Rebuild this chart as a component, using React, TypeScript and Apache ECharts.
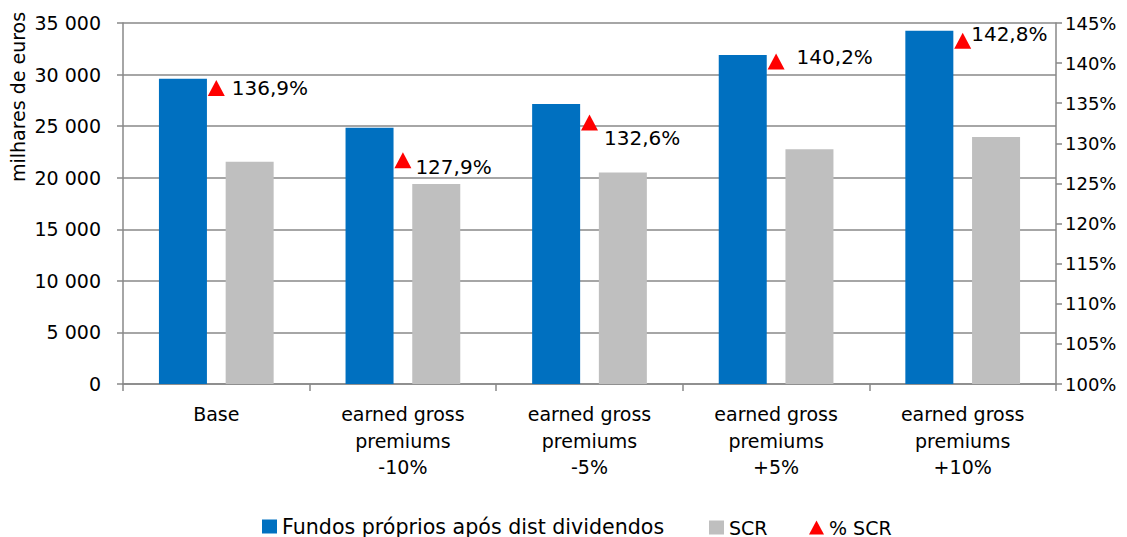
import React, { useEffect, useRef } from "react";
import * as echarts from "echarts";

const categories = [
  "Base",
  "earned gross\npremiums\n-10%",
  "earned gross\npremiums\n-5%",
  "earned gross\npremiums\n+5%",
  "earned gross\npremiums\n+10%",
];
const fundosProprios = [29600, 24850, 27150, 31900, 34250];
const scr = [21550, 19400, 20500, 22750, 23950];
const pctScr = [136.9, 127.9, 132.6, 140.2, 142.8];
const leftTicks = { min: 0, max: 35000, interval: 5000 };
const rightTicks = { min: 100, max: 145, interval: 5 };
const labelOffsets = [
  [2, 0],
  [-1, 7],
  [1, 16],
  [7, -5],
  [-5, -7],
];
const seriesNames = ["Fundos próprios após dist dividendos", "SCR", "% SCR"];
const legendIcons = ["rect", "rect", "triangle"];
const legendLefts = [262, 709, 809];
const legendFontSizes = [20.6, 19, 19];

const FONT = "DejaVu Sans";
const GRID_COLOR = "#888888";
const TEXT_COLOR = "#000000";

function fmtThousands(v: number): string {
  return String(v).replace(/\B(?=(\d{3})+(?!\d))/g, " ");
}

export default function App() {
  const ref = useRef<HTMLDivElement>(null);
  useEffect(() => {
    if (!ref.current) return;
    const chart = echarts.init(ref.current, null, { renderer: "svg" });
    chart.setOption({
      animation: false,
      backgroundColor: "#ffffff",
      textStyle: { fontFamily: FONT },
      grid: { left: 123, right: 71, top: 23, bottom: 153, containLabel: false },
      legend: seriesNames.map((n, i) => ({
        bottom: 0,
        left: legendLefts[i],
        padding: 0,
        itemWidth: 15,
        itemHeight: 14,
        itemGap: 0,
        textStyle: { fontFamily: FONT, fontSize: legendFontSizes[i], color: TEXT_COLOR },
        data: [{ name: n, icon: legendIcons[i] }],
      })),
      graphic: [
        {
          type: "text",
          x: 18,
          y: 97,
          rotation: Math.PI / 2,
          style: {
            text: "milhares de euros",
            fontFamily: FONT,
            fontSize: 19,
            fill: TEXT_COLOR,
            align: "center",
            verticalAlign: "middle",
          },
        },
      ],
      xAxis: {
        type: "category",
        data: categories,
        axisLine: { show: true, lineStyle: { color: GRID_COLOR, width: 1.5 } },
        axisTick: { show: true, length: 7, lineStyle: { color: GRID_COLOR, width: 1.5 } },
        axisLabel: {
          fontFamily: FONT,
          fontSize: 19,
          lineHeight: 26.5,
          color: TEXT_COLOR,
          margin: 17,
          interval: 0,
        },
      },
      yAxis: [
        {
          type: "value",
          min: leftTicks.min,
          max: leftTicks.max,
          interval: leftTicks.interval,
          axisLine: { show: true, lineStyle: { color: GRID_COLOR, width: 1.5 } },
          axisTick: { show: true, length: 6, lineStyle: { color: GRID_COLOR, width: 1.5 } },
          splitLine: { show: true, lineStyle: { color: GRID_COLOR, width: 1.5 } },
          axisLabel: {
            fontFamily: FONT,
            fontSize: 19,
            color: TEXT_COLOR,
            margin: 22,
            formatter: (v: number) => fmtThousands(v),
          },
        },
        {
          type: "value",
          min: rightTicks.min,
          max: rightTicks.max,
          interval: rightTicks.interval,
          position: "right",
          axisLine: { show: true, lineStyle: { color: GRID_COLOR, width: 1.5 } },
          axisTick: { show: true, length: 6, lineStyle: { color: GRID_COLOR, width: 1.5 } },
          splitLine: { show: false },
          axisLabel: {
            fontFamily: FONT,
            fontSize: 18,
            color: TEXT_COLOR,
            margin: 9,
            formatter: (v: number) => v + "%",
          },
        },
      ],
      series: [
        {
          name: seriesNames[0],
          type: "bar",
          data: fundosProprios,
          barWidth: 48,
          barGap: "39%",
          itemStyle: { color: "#0070C0" },
        },
        {
          name: seriesNames[1],
          type: "bar",
          data: scr,
          barWidth: 48,
          itemStyle: { color: "#BFBFBF" },
        },
        {
          name: seriesNames[2],
          type: "scatter",
          yAxisIndex: 1,
          symbol: "triangle",
          symbolSize: [17, 16],
          itemStyle: { color: "#FF0000", opacity: 1 },
          z: 5,
          data: pctScr.map((v, i) => ({
            value: v,
            label: { offset: labelOffsets[i] },
          })),
          label: {
            show: true,
            position: "right",
            distance: 5,
            fontFamily: FONT,
            fontSize: 20,
            color: TEXT_COLOR,
            formatter: (p: any) => p.value.toFixed(1).replace(".", ",") + "%",
          },
        },
      ],
    });
    return () => chart.dispose();
  }, []);
  return (
    <div
      ref={ref}
      style={{ position: "absolute", left: 0, top: 0, width: 1127, height: 537 }}
    />
  );
}
